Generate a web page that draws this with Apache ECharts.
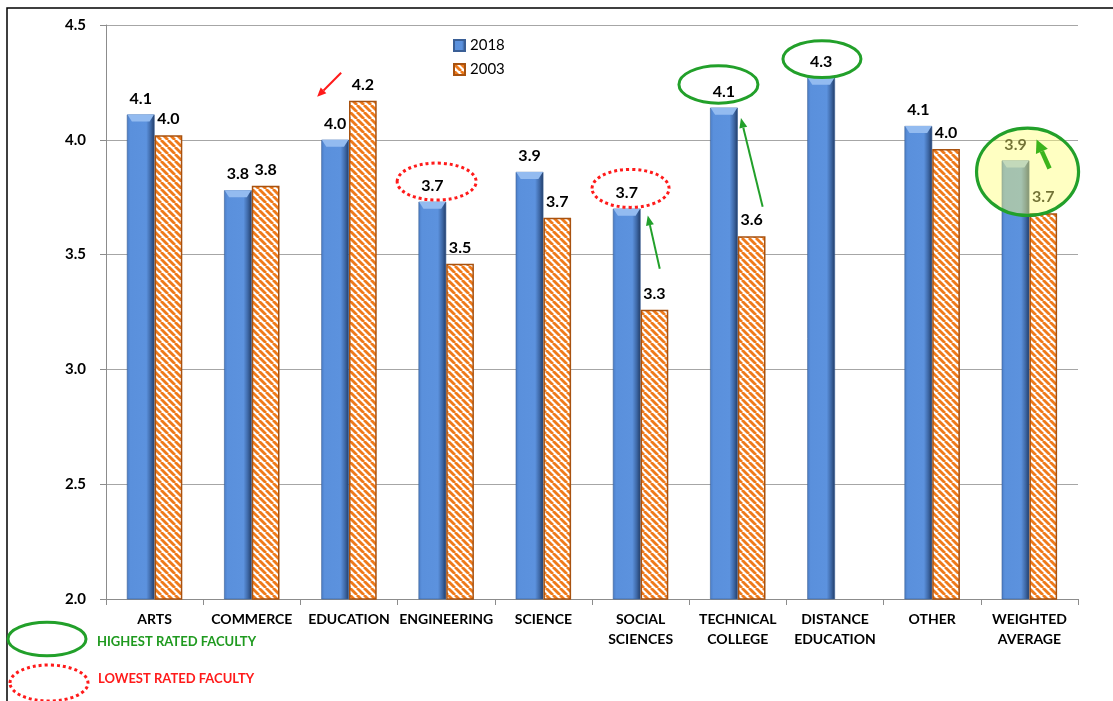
<!DOCTYPE html>
<html>
<head>
<meta charset="utf-8">
<script src="https://cdn.jsdelivr.net/npm/echarts@6/dist/echarts.min.js"></script>
<style>
  html, body { margin: 0; padding: 0; background: #fff; }
  #chart { width: 1113px; height: 701px; }
</style>
</head>
<body>
<div id="chart"></div>
<script>
// Faculty ratings, 2018 vs 2003
const categories = ['ARTS', 'COMMERCE', 'EDUCATION', 'ENGINEERING', 'SCIENCE',
  'SOCIAL\nSCIENCES', 'TECHNICAL\nCOLLEGE', 'DISTANCE\nEDUCATION', 'OTHER', 'WEIGHTED\nAVERAGE'];
const values2018 = [4.11, 3.78, 4.00, 3.73, 3.86, 3.70, 4.14, 4.27, 4.06, 3.91];
const values2003 = [4.02, 3.80, 4.17, 3.46, 3.66, 3.26, 3.58, null, 3.96, 3.68];
const yTicks = { min: 2.0, max: 4.5, interval: 0.5 };

const FONT = 'Lato, "Open Sans", sans-serif';
const GAP = 0.43; // share of each category left empty around the bar pair
const GREEN = '#22a02a';
const RED = '#ff1a1a';

// white tile with orange "\" stripes for the 2003 bars
function stripeTile() {
  const s = 7;
  const c = document.createElement('canvas');
  c.width = s; c.height = s;
  const g = c.getContext('2d');
  g.fillStyle = '#ffffff';
  g.fillRect(0, 0, s, s);
  g.strokeStyle = '#ef7a1a';
  g.lineWidth = 2.8;
  for (const k of [-s, 0, s]) {
    g.beginPath(); g.moveTo(k, 0); g.lineTo(k + s, s); g.stroke();
  }
  return c;
}

const blueFill = new echarts.graphic.LinearGradient(0, 0, 1, 0, [
  { offset: 0, color: '#4b7dc6' },
  { offset: 0.12, color: '#5a90dc' },
  { offset: 0.7, color: '#5c92de' },
  { offset: 0.86, color: '#3e68a6' },
  { offset: 1, color: '#203b66' }
]);

const chart = echarts.init(document.getElementById('chart'), null, { renderer: 'canvas' });

const option = {
  backgroundColor: '#ffffff',
  animation: false,
  textStyle: { fontFamily: FONT },
  grid: { left: 106, right: 35, top: 25, bottom: 102, containLabel: false },
  legend: {
    data: ['2018', '2003'],
    orient: 'vertical',
    left: 448,
    top: 33,
    icon: 'rect',
    itemWidth: 11,
    itemHeight: 11,
    itemGap: 9,
    textStyle: { fontFamily: FONT, fontSize: 15, color: '#000', lineHeight: 15 }
  },
  xAxis: {
    type: 'category',
    data: categories,
    axisLine: { lineStyle: { color: '#8c8c8c', width: 1 } },
    axisTick: { show: true, length: 6, lineStyle: { color: '#8c8c8c' } },
    axisLabel: {
      color: '#000', fontFamily: FONT, fontWeight: 'bold', fontSize: 14,
      lineHeight: 20, margin: 10, interval: 0
    },
    splitLine: { show: false }
  },
  yAxis: {
    type: 'value',
    min: yTicks.min,
    max: yTicks.max,
    interval: yTicks.interval,
    axisLine: { show: true, lineStyle: { color: '#8c8c8c', width: 1 } },
    axisTick: { show: true, length: 6, lineStyle: { color: '#8c8c8c' } },
    axisLabel: {
      color: '#000', fontFamily: FONT, fontWeight: 'bold', fontSize: 15, margin: 20,
      formatter: v => v.toFixed(1)
    },
    splitLine: { show: true, lineStyle: { color: '#a6a6a6', width: 1.2 } }
  },
  series: [
    {
      name: '2018',
      type: 'bar',
      data: values2018,
      barGap: '0%',
      barCategoryGap: (GAP * 100) + '%',
      itemStyle: { color: blueFill, borderColor: '#3a5f96', borderWidth: 0.6 },
      label: {
        show: true, position: 'top', distance: 8, color: '#000',
        fontFamily: FONT, fontWeight: 'bold', fontSize: 16,
        formatter: p => p.value.toFixed(1)
      }
    },
    {
      name: '2003',
      type: 'bar',
      data: values2003,
      barGap: '0%',
      barCategoryGap: (GAP * 100) + '%',
      itemStyle: {
        color: { image: stripeTile(), repeat: 'repeat' },
        borderColor: '#a8520f', borderWidth: 1.5
      },
      label: {
        show: true, position: 'top', distance: 8, color: '#000',
        fontFamily: FONT, fontWeight: 'bold', fontSize: 16,
        formatter: p => (p.value == null ? '' : p.value.toFixed(1))
      }
    },
    {
      // light chamfer on top of each 2018 bar
      name: 'bevel',
      type: 'custom',
      silent: true,
      z: 3,
      data: values2018.map((v, i) => [i, v]),
      encode: { x: 0, y: 1 },
      renderItem: (params, api) => {
        const p = api.coord([api.value(0), api.value(1)]);
        const bw = api.size([1, 0])[0] * (1 - GAP) / 2;
        const l = p[0] - bw, r = p[0], t = p[1];
        return {
          type: 'polygon',
          shape: { points: [[l + 0.5, t], [r - 0.5, t], [r - 5, t + 7], [l + 5, t + 7]] },
          style: { fill: '#93bbf0' }
        };
      }
    }
  ]
};

chart.setOption(option);

// ---- annotations, anchored to the bar tops ----
function catWidth() {
  return chart.convertToPixel({ xAxisIndex: 0 }, categories[1]) -
         chart.convertToPixel({ xAxisIndex: 0 }, categories[0]);
}
function barTop(i, seriesIdx) {
  const vals = seriesIdx === 0 ? values2018 : values2003;
  const p = chart.convertToPixel({ gridIndex: 0 }, [categories[i], vals[i]]);
  const bw = catWidth() * (1 - GAP) / 2;
  return [p[0] + (seriesIdx === 0 ? -bw / 2 : bw / 2), p[1]];
}
function ellipse(c, dx, dy, rx, ry, style) {
  return {
    type: 'ellipse', z: 100,
    shape: { cx: c[0] + dx, cy: c[1] + dy, rx, ry },
    style
  };
}
function arrow(x1, y1, x2, y2, color, width, headLen, headW) {
  const ang = Math.atan2(y2 - y1, x2 - x1);
  const bx = x2 - headLen * Math.cos(ang), by = y2 - headLen * Math.sin(ang);
  const nx = -Math.sin(ang) * headW / 2, ny = Math.cos(ang) * headW / 2;
  return [
    { type: 'line', z: 101, shape: { x1, y1, x2: bx, y2: by },
      style: { stroke: color, lineWidth: width } },
    { type: 'polygon', z: 101,
      shape: { points: [[x2, y2], [bx + nx, by + ny], [bx - nx, by - ny]] },
      style: { fill: color } }
  ];
}
function arrowFrom(c, dx1, dy1, dx2, dy2, color, width, headLen, headW) {
  return arrow(c[0] + dx1, c[1] + dy1, c[0] + dx2, c[1] + dy2, color, width, headLen, headW);
}

const solidGreen = { fill: 'none', stroke: GREEN, lineWidth: 3 };
const dottedRed = { fill: 'none', stroke: RED, lineWidth: 3, lineDash: [3, 3] };

const bEdu = barTop(2, 0), bEng = barTop(3, 0), bSoc = barTop(5, 0);
const bTec = barTop(6, 0), bDist = barTop(7, 0), bAvg = barTop(9, 0);

const graphics = [
  // outer frame
  { type: 'rect', z: 0, shape: { x: 7, y: 8, width: 1200, height: 800 },
    style: { fill: 'none', stroke: '#000', lineWidth: 1.5 } },

  ...arrowFrom(bEdu, 6, -67, -18, -43, RED, 2, 9, 8),
  ellipse(bEng, 4.3, -20.2, 39.5, 18.5, dottedRed),
  ellipse(bSoc, 3.8, -20.3, 38.5, 19, dottedRed),
  ...arrowFrom(bSoc, 33, 60, 21, 6.7, GREEN, 2, 10, 8),
  ellipse(bTec, -5.5, -23.2, 39.5, 18.7, solidGreen),
  ...arrowFrom(bTec, 38.7, 99, 17, 10.3, GREEN, 2, 10, 8),
  ellipse(bDist, 0.8, -18.7, 39, 18.3, solidGreen),
  ellipse(bAvg, 12, 11.3, 51, 43.7,
    { fill: 'rgba(255,255,120,0.45)', stroke: GREEN, lineWidth: 3.2 }),
  ...arrowFrom(bAvg, 34, 8, 21, -21, '#3cb41c', 4.5, 13, 13),

  // key for the highlight rings
  { type: 'ellipse', z: 100, shape: { cx: 47, cy: 639, rx: 39, ry: 16.7 }, style: solidGreen },
  { type: 'text', z: 100, x: 97, y: 642,
    style: { text: 'HIGHEST RATED FACULTY', fill: '#1f9a1f', font: 'bold 13px ' + FONT,
      textVerticalAlign: 'middle', verticalAlign: 'middle' } },
  { type: 'ellipse', z: 100, shape: { cx: 49, cy: 683, rx: 39, ry: 18 }, style: dottedRed },
  { type: 'text', z: 100, x: 98, y: 679,
    style: { text: 'LOWEST RATED FACULTY', fill: RED, font: 'bold 13px ' + FONT,
      textVerticalAlign: 'middle', verticalAlign: 'middle' } }
];

chart.setOption({ graphic: graphics });
</script>
</body>
</html>
